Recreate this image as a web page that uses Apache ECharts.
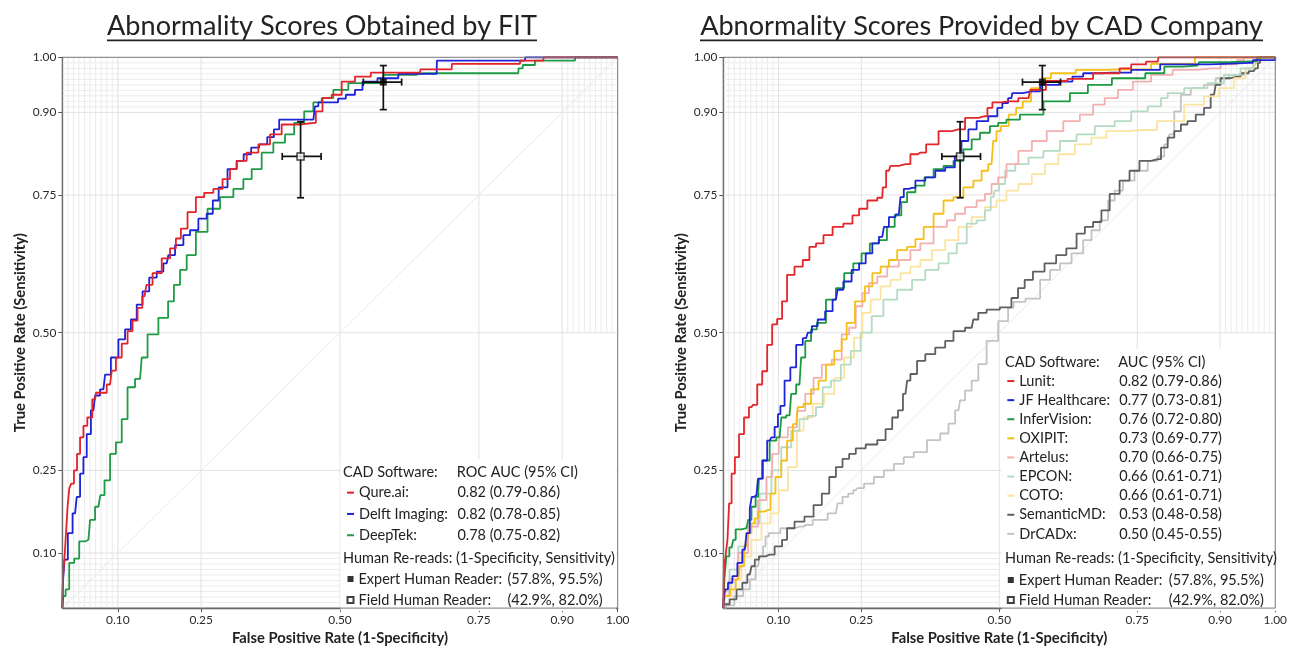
<!DOCTYPE html>
<html><head><meta charset="utf-8">
<script src="https://cdn.jsdelivr.net/npm/echarts@6/dist/echarts.min.js"></script>
<style>html,body{margin:0;padding:0;background:#fff}#c{width:1290px;height:651px}</style>
</head><body><div id="c"></div>
<script>
// ---------- axis / grid values ----------
const tickValues = [0.10, 0.25, 0.50, 0.75, 0.90, 1.00];
const majorGrid = [0.10, 0.25, 0.50, 0.75, 0.90];
const fineLow = [0.01, 0.02, 0.03, 0.04, 0.05, 0.06, 0.07, 0.08, 0.09];
const fineHigh = [0.91, 0.92, 0.93, 0.94, 0.95, 0.96, 0.97, 0.98, 0.99];

// ---------- titles ----------
const titleLeft = 'Abnormality Scores Obtained by FIT';
const titleRight = 'Abnormality Scores Provided by CAD Company';

// ---------- left chart (FIT) ----------
const leftNames = ['Qure.ai', 'Delft Imaging', 'DeepTek'];
const leftAUC = ['0.82 (0.79-0.86)', '0.82 (0.78-0.85)', '0.78 (0.75-0.82)'];
const qureai = [[0,0],[0.003,0.06],[0.006,0.10],[0.008,0.142],[0.011,0.184],[0.014,0.217],[0.018,0.226],[0.024,0.25],[0.029,0.28],[0.035,0.31],[0.041,0.331],[0.049,0.346],[0.059,0.379],[0.062,0.391],[0.074,0.391],[0.086,0.406],[0.092,0.431],[0.101,0.455],[0.113,0.48],[0.122,0.503],[0.131,0.522],[0.14,0.545],[0.148,0.566],[0.155,0.587],[0.17,0.608],[0.188,0.635],[0.2,0.653],[0.209,0.671],[0.218,0.689],[0.233,0.719],[0.248,0.746],[0.263,0.754],[0.281,0.761],[0.296,0.779],[0.308,0.797],[0.32,0.812],[0.344,0.827],[0.362,0.842],[0.386,0.86],[0.404,0.878],[0.452,0.881],[0.461,0.902],[0.476,0.926],[0.494,0.932],[0.512,0.956],[0.542,0.965],[0.569,0.972],[0.644,0.972],[0.646,0.978],[0.701,0.978],[0.702,0.988],[0.824,0.988],[0.825,0.994],[0.866,0.994],[0.867,1],[1,1]];
const delft = [[0,0],[0.002,0.046],[0.006,0.088],[0.014,0.136],[0.023,0.172],[0.029,0.202],[0.035,0.244],[0.041,0.274],[0.047,0.316],[0.056,0.359],[0.062,0.386],[0.074,0.397],[0.08,0.424],[0.095,0.455],[0.107,0.488],[0.119,0.506],[0.128,0.524],[0.14,0.551],[0.149,0.575],[0.164,0.6],[0.176,0.611],[0.188,0.626],[0.194,0.641],[0.212,0.659],[0.224,0.677],[0.236,0.686],[0.254,0.707],[0.266,0.716],[0.276,0.74],[0.287,0.764],[0.308,0.797],[0.32,0.812],[0.333,0.824],[0.347,0.836],[0.362,0.842],[0.376,0.855],[0.386,0.869],[0.395,0.887],[0.452,0.887],[0.458,0.911],[0.464,0.918],[0.49,0.918],[0.503,0.925],[0.518,0.932],[0.536,0.941],[0.545,0.956],[0.59,0.962],[0.62,0.97],[0.674,0.97],[0.675,0.994],[0.833,0.994],[0.834,1],[1,1]];
const deeptek = [[0,0],[0.004,0.022],[0.008,0.034],[0.017,0.082],[0.026,0.09],[0.035,0.121],[0.047,0.124],[0.053,0.16],[0.065,0.184],[0.072,0.205],[0.08,0.232],[0.092,0.28],[0.101,0.301],[0.113,0.343],[0.122,0.401],[0.14,0.416],[0.146,0.455],[0.161,0.497],[0.185,0.527],[0.196,0.557],[0.206,0.587],[0.218,0.614],[0.23,0.641],[0.251,0.683],[0.272,0.725],[0.296,0.746],[0.32,0.761],[0.332,0.779],[0.35,0.797],[0.368,0.827],[0.392,0.845],[0.41,0.86],[0.425,0.881],[0.446,0.902],[0.458,0.918],[0.476,0.926],[0.5,0.941],[0.53,0.953],[0.626,0.968],[0.647,0.971],[0.821,0.971],[0.822,0.98],[0.836,0.986],[0.866,0.994],[0.923,0.994],[0.924,1],[1,1]];

// ---------- right chart (CAD company) ----------
const rightNames = ['Lunit', 'JF Healthcare', 'InferVision', 'OXIPIT', 'Artelus', 'EPCON', 'COTO', 'SemanticMD', 'DrCADx'];
const rightAUC = ['0.82 (0.79-0.86)', '0.77 (0.73-0.81)', '0.76 (0.72-0.80)', '0.73 (0.69-0.77)', '0.70 (0.66-0.75)', '0.66 (0.61-0.71)', '0.66 (0.61-0.71)', '0.53 (0.48-0.58)', '0.50 (0.45-0.55)'];
const lunit = [[0,0],[0.002,0.07],[0.006,0.094],[0.009,0.124],[0.012,0.19],[0.018,0.244],[0.024,0.274],[0.033,0.316],[0.042,0.346],[0.051,0.365],[0.057,0.369],[0.066,0.406],[0.075,0.43],[0.084,0.478],[0.093,0.515],[0.102,0.525],[0.111,0.557],[0.12,0.605],[0.138,0.62],[0.15,0.632],[0.162,0.656],[0.174,0.662],[0.189,0.677],[0.207,0.692],[0.228,0.698],[0.24,0.713],[0.252,0.725],[0.27,0.74],[0.288,0.745],[0.29,0.764],[0.3,0.794],[0.306,0.803],[0.33,0.806],[0.348,0.824],[0.357,0.827],[0.378,0.842],[0.402,0.866],[0.426,0.869],[0.45,0.89],[0.474,0.893],[0.483,0.908],[0.492,0.918],[0.516,0.92],[0.553,0.926],[0.559,0.941],[0.61,0.957],[0.637,0.961],[0.703,0.971],[0.733,0.98],[0.745,0.987],[0.787,0.992],[0.79,1],[1,1]];
const jfHealthcare = [[0,0],[0.002,0.02],[0.005,0.034],[0.012,0.046],[0.021,0.058],[0.03,0.082],[0.039,0.106],[0.045,0.136],[0.051,0.181],[0.052,0.202],[0.06,0.205],[0.066,0.235],[0.075,0.268],[0.084,0.304],[0.09,0.31],[0.096,0.329],[0.102,0.352],[0.105,0.367],[0.117,0.413],[0.126,0.437],[0.138,0.478],[0.15,0.49],[0.156,0.5],[0.165,0.512],[0.177,0.524],[0.192,0.539],[0.204,0.56],[0.21,0.578],[0.225,0.593],[0.24,0.614],[0.252,0.626],[0.264,0.644],[0.276,0.662],[0.288,0.674],[0.294,0.692],[0.306,0.71],[0.318,0.715],[0.324,0.746],[0.33,0.761],[0.342,0.763],[0.354,0.776],[0.378,0.782],[0.39,0.794],[0.414,0.8],[0.425,0.82],[0.438,0.848],[0.45,0.869],[0.468,0.884],[0.492,0.893],[0.501,0.908],[0.51,0.917],[0.522,0.926],[0.525,0.935],[0.559,0.938],[0.589,0.95],[0.628,0.956],[0.637,0.965],[0.667,0.971],[0.703,0.972],[0.775,0.977],[0.808,0.987],[0.955,0.99],[0.964,0.995],[1,0.995],[1,1]];
const inferVision = [[0,0],[0.004,0.052],[0.007,0.094],[0.015,0.11],[0.021,0.124],[0.024,0.143],[0.042,0.145],[0.048,0.16],[0.054,0.184],[0.063,0.202],[0.066,0.235],[0.078,0.268],[0.09,0.304],[0.102,0.31],[0.108,0.346],[0.12,0.35],[0.126,0.389],[0.138,0.406],[0.144,0.455],[0.153,0.485],[0.165,0.506],[0.174,0.518],[0.198,0.56],[0.21,0.581],[0.228,0.608],[0.243,0.626],[0.258,0.644],[0.273,0.662],[0.29,0.668],[0.303,0.692],[0.318,0.713],[0.327,0.737],[0.339,0.755],[0.357,0.767],[0.372,0.782],[0.39,0.797],[0.408,0.803],[0.426,0.812],[0.444,0.833],[0.456,0.851],[0.474,0.863],[0.492,0.875],[0.504,0.881],[0.522,0.887],[0.553,0.896],[0.607,0.92],[0.649,0.935],[0.672,0.95],[0.736,0.962],[0.793,0.971],[0.805,0.983],[0.859,0.985],[0.865,0.991],[0.967,0.993],[0.968,1],[1,1]];
const oxipit = [[0,0],[0.006,0.022],[0.018,0.034],[0.027,0.052],[0.033,0.076],[0.042,0.112],[0.048,0.136],[0.054,0.154],[0.06,0.163],[0.066,0.175],[0.081,0.178],[0.09,0.208],[0.099,0.238],[0.111,0.268],[0.12,0.304],[0.132,0.334],[0.138,0.365],[0.153,0.371],[0.165,0.397],[0.18,0.413],[0.192,0.442],[0.21,0.467],[0.219,0.488],[0.228,0.518],[0.249,0.557],[0.264,0.584],[0.276,0.608],[0.294,0.62],[0.306,0.632],[0.324,0.65],[0.342,0.656],[0.354,0.67],[0.372,0.692],[0.39,0.716],[0.408,0.74],[0.426,0.746],[0.444,0.764],[0.462,0.776],[0.474,0.794],[0.486,0.806],[0.492,0.848],[0.498,0.866],[0.508,0.875],[0.526,0.896],[0.535,0.908],[0.55,0.92],[0.565,0.944],[0.589,0.962],[0.598,0.971],[0.679,0.977],[0.715,0.978],[0.835,0.988],[0.874,1],[1,1]];
const artelus = [[0,0],[0.004,0.023],[0.018,0.052],[0.036,0.1],[0.054,0.148],[0.072,0.196],[0.084,0.238],[0.093,0.28],[0.108,0.31],[0.126,0.328],[0.141,0.358],[0.156,0.389],[0.171,0.418],[0.186,0.442],[0.207,0.451],[0.222,0.497],[0.234,0.509],[0.246,0.548],[0.258,0.572],[0.27,0.59],[0.288,0.602],[0.306,0.62],[0.33,0.632],[0.348,0.65],[0.366,0.662],[0.396,0.692],[0.414,0.704],[0.426,0.716],[0.45,0.728],[0.468,0.74],[0.48,0.752],[0.492,0.77],[0.504,0.782],[0.522,0.806],[0.547,0.83],[0.571,0.848],[0.601,0.866],[0.631,0.884],[0.661,0.896],[0.679,0.914],[0.703,0.926],[0.727,0.941],[0.757,0.956],[0.793,0.968],[0.835,0.977],[0.883,0.98],[0.919,0.987],[0.943,0.995],[0.944,1],[1,1]];
const epcon = [[0,0],[0.005,0.03],[0.018,0.07],[0.036,0.112],[0.054,0.154],[0.078,0.208],[0.096,0.25],[0.114,0.292],[0.132,0.322],[0.144,0.343],[0.162,0.349],[0.174,0.365],[0.186,0.401],[0.204,0.413],[0.222,0.442],[0.24,0.467],[0.258,0.5],[0.28,0.53],[0.3,0.56],[0.33,0.578],[0.354,0.596],[0.378,0.614],[0.402,0.626],[0.414,0.644],[0.432,0.662],[0.45,0.698],[0.468,0.704],[0.48,0.722],[0.489,0.746],[0.495,0.758],[0.504,0.77],[0.517,0.794],[0.541,0.806],[0.565,0.818],[0.595,0.83],[0.625,0.848],[0.655,0.86],[0.691,0.875],[0.727,0.884],[0.751,0.902],[0.787,0.911],[0.799,0.926],[0.811,0.935],[0.859,0.944],[0.895,0.953],[0.919,0.968],[0.955,0.98],[0.964,0.992],[0.966,1],[1,1]];
const coto = [[0,0],[0.006,0.022],[0.024,0.052],[0.042,0.094],[0.06,0.124],[0.078,0.154],[0.093,0.172],[0.108,0.214],[0.126,0.256],[0.141,0.322],[0.15,0.346],[0.174,0.371],[0.192,0.389],[0.21,0.418],[0.228,0.455],[0.246,0.491],[0.258,0.536],[0.276,0.56],[0.294,0.584],[0.312,0.596],[0.33,0.608],[0.348,0.62],[0.366,0.632],[0.39,0.65],[0.414,0.668],[0.438,0.692],[0.462,0.71],[0.486,0.728],[0.504,0.74],[0.522,0.758],[0.547,0.77],[0.571,0.788],[0.595,0.806],[0.619,0.824],[0.655,0.842],[0.679,0.854],[0.709,0.866],[0.76,0.868],[0.811,0.884],[0.859,0.914],[0.883,0.929],[0.913,0.944],[0.937,0.962],[0.955,0.98],[0.967,0.992],[0.97,1],[1,1]];
const semanticMD = [[0,0],[0.005,0.007],[0.018,0.016],[0.03,0.034],[0.039,0.046],[0.048,0.061],[0.054,0.076],[0.06,0.088],[0.069,0.094],[0.084,0.097],[0.102,0.112],[0.111,0.124],[0.12,0.145],[0.138,0.157],[0.156,0.166],[0.171,0.187],[0.186,0.208],[0.198,0.238],[0.21,0.256],[0.222,0.271],[0.234,0.28],[0.246,0.29],[0.27,0.297],[0.288,0.305],[0.3,0.325],[0.312,0.346],[0.321,0.359],[0.33,0.389],[0.336,0.413],[0.342,0.425],[0.36,0.449],[0.372,0.461],[0.396,0.473],[0.408,0.485],[0.426,0.503],[0.45,0.509],[0.456,0.524],[0.468,0.536],[0.486,0.542],[0.516,0.546],[0.528,0.563],[0.54,0.581],[0.552,0.596],[0.57,0.611],[0.594,0.626],[0.612,0.641],[0.631,0.653],[0.649,0.68],[0.661,0.692],[0.679,0.701],[0.691,0.722],[0.709,0.752],[0.727,0.776],[0.745,0.794],[0.763,0.812],[0.787,0.815],[0.799,0.836],[0.811,0.854],[0.823,0.866],[0.835,0.878],[0.847,0.884],[0.865,0.896],[0.877,0.908],[0.889,0.932],[0.895,0.95],[0.907,0.962],[0.931,0.965],[0.943,0.971],[0.961,0.975],[0.967,0.98],[0.97,0.99],[0.975,1],[1,1]];
const drCADx = [[0,0],[0.01,0.005],[0.03,0.022],[0.042,0.034],[0.054,0.052],[0.063,0.076],[0.069,0.094],[0.075,0.112],[0.078,0.13],[0.087,0.136],[0.12,0.145],[0.138,0.148],[0.15,0.151],[0.174,0.16],[0.204,0.172],[0.21,0.19],[0.222,0.202],[0.231,0.208],[0.24,0.214],[0.246,0.218],[0.264,0.226],[0.282,0.238],[0.3,0.25],[0.318,0.262],[0.336,0.274],[0.354,0.283],[0.384,0.305],[0.402,0.317],[0.414,0.335],[0.426,0.359],[0.432,0.377],[0.444,0.395],[0.456,0.413],[0.468,0.443],[0.486,0.485],[0.51,0.521],[0.522,0.545],[0.53,0.556],[0.565,0.562],[0.583,0.596],[0.601,0.614],[0.619,0.626],[0.643,0.644],[0.661,0.668],[0.673,0.686],[0.691,0.704],[0.703,0.74],[0.715,0.758],[0.733,0.776],[0.757,0.794],[0.781,0.812],[0.793,0.82],[0.805,0.842],[0.811,0.86],[0.823,0.902],[0.835,0.932],[0.859,0.944],[0.883,0.95],[0.901,0.962],[0.931,0.968],[0.961,0.98],[0.967,0.99],[0.97,1],[1,1]];

// ---------- human readers ----------
const readerNames = ['Expert Human Reader', 'Field Human Reader'];
const readerLabels = ['(57.8%, 95.5%)', '(42.9%, 82.0%)'];
const expertPoint = [0.578, 0.955];
const expertCIx = [0.542, 0.611];
const expertCIy = [0.905, 0.985];
const fieldPoint = [0.429, 0.820];
const fieldCIx = [0.396, 0.466];
const fieldCIy = [0.745, 0.883];

// ---------- styling ----------
const FONT = 'Lato, "Open Sans", "DejaVu Sans", sans-serif';
const leftColors = ['#e4222a', '#1c22d6', '#1f9b45'];
const leftData = [qureai, delft, deeptek];
const rightColors = ['#e3262b', '#1e24d8', '#1b9a40', '#f5bf17', '#f2b0b0', '#b5dcc3', '#fbe4a0', '#5f5f5f', '#c3c3c3'];
const rightData = [lunit, jfHealthcare, inferVision, oxipit, artelus, epcon, coto, semanticMD, drCADx];

const cv = document.createElement('canvas').getContext('2d');
function fitSize(text, width, weight) {
  cv.font = (weight || 'normal') + ' 100px ' + FONT;
  return 100 * width / cv.measureText(text).width;
}
const TITLE_L = fitSize(titleLeft, 430);
const TITLE_R = fitSize(titleRight, 563);
const LEG = fitSize('Human Re-reads: (1-Specificity, Sensitivity)', 272);
const TICK = fitSize('0.10', 23.5);
const AXN = fitSize('False Positive Rate (1-Specificity)', 216, 'bold');

const chart = echarts.init(document.getElementById('c'), null, {renderer: 'canvas'});

function gridSegments() {
  const segs = [];
  fineLow.forEach(v => { segs.push([v, 0, v, 1, 0]); segs.push([0, v, 0.5, v, 0]); });
  fineHigh.forEach(v => { segs.push([0, v, 1, v, 0]); segs.push([v, 0.5, v, 1, 0]); });
  majorGrid.forEach(v => { segs.push([v, 0, v, 1, 1]); segs.push([0, v, 1, v, 1]); });
  segs.push([0, 0, 1, 1, 2]);
  return segs;
}
const segColors = ['#ececec', '#e2e2e2', '#e9e9e9'];

function gridSeries(i) {
  return {
    type: 'custom', xAxisIndex: i, yAxisIndex: i, silent: true, z: 1, clip: false,
    data: gridSegments(),
    renderItem: (params, api) => {
      const a = api.coord([api.value(0), api.value(1)]);
      const b = api.coord([api.value(2), api.value(3)]);
      return {type: 'line', shape: {x1: a[0], y1: a[1], x2: b[0], y2: b[1]},
        style: {stroke: segColors[api.value(4)], lineWidth: 1}};
    }
  };
}

function errorBarSeries(i) {
  return {
    type: 'custom', xAxisIndex: i, yAxisIndex: i, silent: true, z: 4, clip: false,
    data: [
      [expertPoint[0], expertPoint[1], expertCIx[0], expertCIx[1], expertCIy[0], expertCIy[1]],
      [fieldPoint[0], fieldPoint[1], fieldCIx[0], fieldCIx[1], fieldCIy[0], fieldCIy[1]]
    ],
    renderItem: (params, api) => {
      const c = api.coord([api.value(0), api.value(1)]);
      const l = api.coord([api.value(2), api.value(1)]);
      const r = api.coord([api.value(3), api.value(1)]);
      const lo = api.coord([api.value(0), api.value(4)]);
      const hi = api.coord([api.value(0), api.value(5)]);
      const cap = 3.5;
      const st = {stroke: '#111', lineWidth: 1.7};
      const ln = (x1, y1, x2, y2) => ({type: 'line', shape: {x1, y1, x2, y2}, style: st});
      return {type: 'group', children: [
        ln(l[0], c[1], r[0], c[1]),
        ln(l[0], c[1] - cap, l[0], c[1] + cap),
        ln(r[0], c[1] - cap, r[0], c[1] + cap),
        ln(c[0], lo[1], c[0], hi[1]),
        ln(c[0] - cap, lo[1], c[0] + cap, lo[1]),
        ln(c[0] - cap, hi[1], c[0] + cap, hi[1])
      ]};
    }
  };
}

function readerSeries(i) {
  return [
    {name: readerNames[0], type: 'scatter', xAxisIndex: i, yAxisIndex: i, z: 5, symbol: 'rect', symbolSize: 7,
      itemStyle: {color: '#000', borderColor: '#000', borderWidth: 0}, data: [expertPoint]},
    {name: readerNames[1], type: 'scatter', xAxisIndex: i, yAxisIndex: i, z: 5, symbol: 'rect', symbolSize: 7,
      itemStyle: {color: '#fff', borderColor: '#111', borderWidth: 1.5}, data: [fieldPoint]}
  ];
}

function curveSeries(names, datas, colors, i) {
  const out = [];
  for (let k = names.length - 1; k >= 0; k--) {
    out.push({name: names[k], type: 'line', xAxisIndex: i, yAxisIndex: i, step: 'middle', symbol: 'none',
      clip: false, z: 3, color: colors[k], lineStyle: {color: colors[k], width: 1.8}, data: datas[k]});
  }
  return out;
}

function xAxisCfg(i) {
  return {type: 'value', gridIndex: i, min: 0, max: 1,
    name: 'False Positive Rate (1-Specificity)', nameLocation: 'middle', nameGap: 22,
    nameTextStyle: {fontFamily: FONT, fontWeight: 'bold', fontSize: AXN, color: '#222'},
    axisLine: {lineStyle: {color: '#555', width: 1.3}},
    axisTick: {customValues: tickValues, length: 4, lineStyle: {color: '#555'}},
    axisLabel: {customValues: tickValues, formatter: v => v.toFixed(2), margin: 6, fontFamily: FONT, fontSize: TICK, color: '#2a2a2a'},
    splitLine: {show: false}};
}
function yAxisCfg(i) {
  return {type: 'value', gridIndex: i, min: 0, max: 1,
    name: 'True Positive Rate (Sensitivity)', nameLocation: 'middle', nameGap: 35,
    nameTextStyle: {fontFamily: FONT, fontWeight: 'bold', fontSize: AXN, color: '#222'},
    axisLine: {lineStyle: {color: '#555', width: 1.3}},
    axisTick: {customValues: tickValues, length: 4, lineStyle: {color: '#555'}},
    axisLabel: {customValues: tickValues, formatter: v => v.toFixed(2), margin: 6, fontFamily: FONT, fontSize: TICK, color: '#2a2a2a'},
    splitLine: {show: false}};
}

function legendCfg(names, labels, left, top, lh, nameW, iw, ih) {
  const rs = {fontFamily: FONT, fontSize: LEG, color: '#222', lineHeight: lh};
  return {data: names, orient: 'vertical', left, top, padding: 0, itemGap: 0, itemWidth: iw, itemHeight: ih,
    selectedMode: false, z: 10,
    formatter: n => '{n|' + n + ':}{v|' + labels[names.indexOf(n)] + '}',
    textStyle: Object.assign({}, rs, {rich: {n: Object.assign({width: nameW}, rs), v: Object.assign({}, rs)}})};
}

function txt(x, y, text) {
  return {type: 'text', x, y, z: 10,
    style: {text, fill: '#222', font: 'normal ' + LEG + 'px ' + FONT, align: 'left', verticalAlign: 'middle'}};
}

const option = {
  backgroundColor: '#fff',
  animation: false,
  grid: [
    {left: 62.3, top: 57.3, width: 555.4, height: 555, show: true, borderColor: '#777', borderWidth: 1, z: 8},
    {left: 723.3, top: 57.3, width: 555, height: 555, show: true, borderColor: '#777', borderWidth: 1, z: 8}
  ],
  xAxis: [xAxisCfg(0), xAxisCfg(1)],
  yAxis: [yAxisCfg(0), yAxisCfg(1)],
  legend: [
    legendCfg(leftNames, leftAUC, 346, 482, 21.3, 98.4, 7, 2),
    legendCfg(readerNames, readerLabels, 346.5, 568.5, 21, 149, 6, 6),
    legendCfg(rightNames, rightAUC, 1006.3, 371.5, 19.1, 100, 7, 2),
    legendCfg(readerNames, readerLabels, 1006.8, 570, 20, 150, 6, 6)
  ],
  graphic: [
    {type: 'text', x: 322, y: 26, z: 10, style: {text: titleLeft, fill: '#222', font: 'normal ' + TITLE_L + 'px ' + FONT, align: 'center', verticalAlign: 'middle'}},
    {type: 'rect', z: 10, shape: {x: 322 - 215, y: 39.5, width: 430, height: 1.8}, style: {fill: '#222'}},
    {type: 'text', x: 981.5, y: 26, z: 10, style: {text: titleRight, fill: '#222', font: 'normal ' + TITLE_R + 'px ' + FONT, align: 'center', verticalAlign: 'middle'}},
    {type: 'rect', z: 10, shape: {x: 981.5 - 281.5, y: 39.5, width: 563, height: 1.8}, style: {fill: '#222'}},
    // legend backgrounds
    {type: 'rect', z: 6, shape: {x: 340.5, y: 459, width: 275.5, height: 152}, style: {fill: '#fff'}},
    {type: 'rect', z: 6, shape: {x: 1001.5, y: 349, width: 275, height: 262}, style: {fill: '#fff'}},
    // legend headers
    txt(343, 472.7, 'CAD Software:'),
    txt(456.7, 472.7, 'ROC AUC (95% CI)'),
    txt(343, 558.5, 'Human Re-reads: (1-Specificity, Sensitivity)'),
    txt(1005, 362.7, 'CAD Software:'),
    txt(1118.3, 362.7, 'AUC (95% CI)'),
    txt(1005, 558.3, 'Human Re-reads: (1-Specificity, Sensitivity)')
  ],
  series: [
    gridSeries(0), gridSeries(1),
    ...curveSeries(leftNames, leftData, leftColors, 0),
    ...curveSeries(rightNames, rightData, rightColors, 1),
    errorBarSeries(0), errorBarSeries(1),
    ...readerSeries(0), ...readerSeries(1)
  ]
};
chart.setOption(option);
</script>
</body></html>
